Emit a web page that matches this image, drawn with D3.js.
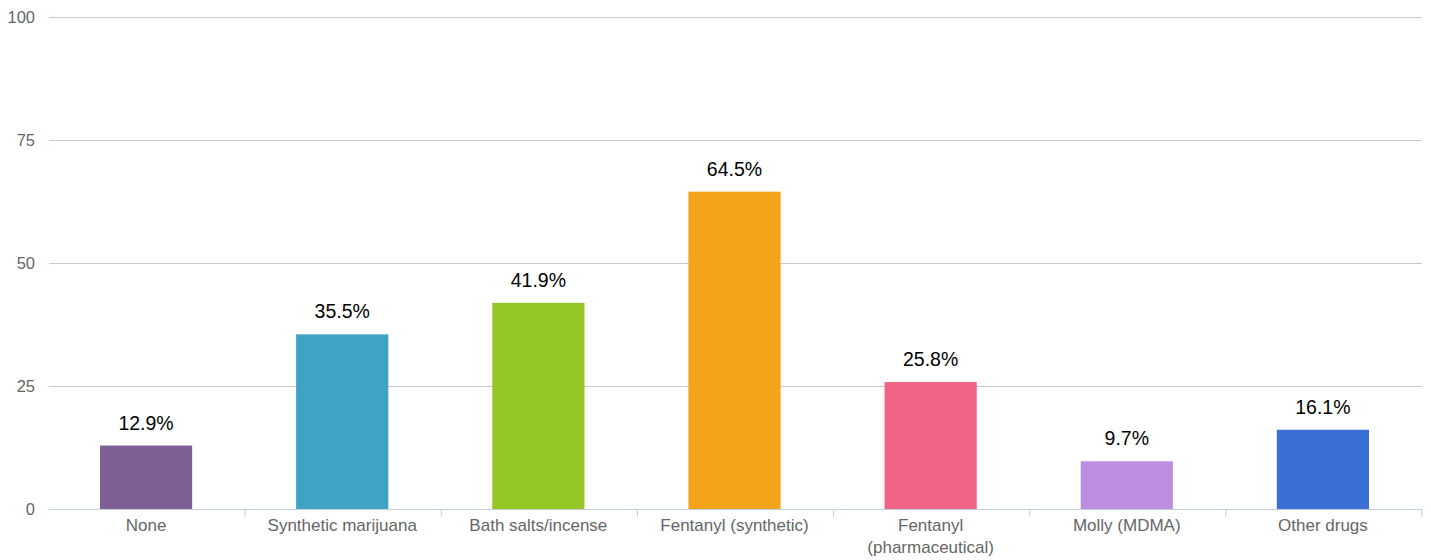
<!DOCTYPE html>
<html><head><meta charset="utf-8">
<script src="https://cdn.jsdelivr.net/npm/d3@7"></script>
<style>body{margin:0;background:#fff;font-family:Helvetica,Arial,"Liberation Sans",sans-serif;}</style>
</head><body>
<svg id="c" width="1431" height="560"></svg>
<script>
const categories = ["None","Synthetic marijuana","Bath salts/incense","Fentanyl (synthetic)","Fentanyl\n(pharmaceutical)","Molly (MDMA)","Other drugs"];
const values = [12.9,35.5,41.9,64.5,25.8,9.7,16.1];
const colors = ["#7d6095","#3fa3c4","#95c826","#f4a41b","#f06585","#bd8ee0","#3a6fd5"];
const yTicks = [0,25,50,75,100];

const svg = d3.select("#c");
const L=49, R=1422, T=17, B=509;
const x = d3.scaleBand().domain(categories).range([L,R]).paddingInner(0.53).paddingOuter(0.265);
const y = d3.scaleLinear().domain([0,100]).range([B,T]);
const off = -1;

// gridlines
svg.append("g").selectAll("line").data(yTicks.filter(d=>d>0)).join("line")
  .attr("x1",L).attr("x2",R).attr("y1",d=>y(d)+0.5).attr("y2",d=>y(d)+0.5)
  .attr("stroke","#c8c8c8").attr("stroke-width",1);
svg.append("g").selectAll("text").data(yTicks).join("text")
  .attr("x",35).attr("y",d=>y(d)+6).attr("text-anchor","end")
  .attr("font-size",16.5).attr("fill","#666").text(d=>d);

// bars
svg.append("g").selectAll("rect").data(values).join("rect")
  .attr("x",(d,i)=>x(categories[i])+off).attr("width",x.bandwidth())
  .attr("y",d=>y(d)).attr("height",d=>B-y(d)).attr("fill",(d,i)=>colors[i]);

// value labels
svg.append("g").selectAll("text").data(values).join("text")
  .attr("x",(d,i)=>x(categories[i])+x.bandwidth()/2+off).attr("y",d=>y(d)-16)
  .attr("text-anchor","middle").attr("font-size",19.5).attr("fill","#000")
  .text(d=>d.toFixed(1)+"%");

// baseline & ticks
svg.append("line").attr("x1",L).attr("x2",R).attr("y1",B+0.5).attr("y2",B+0.5)
  .attr("stroke","#c0d0e0").attr("stroke-width",1);
const step = x.step();
svg.append("g").selectAll("line").data(d3.range(1,categories.length+1)).join("line")
  .attr("x1",i=>L+i*step).attr("x2",i=>L+i*step).attr("y1",B).attr("y2",B+8)
  .attr("stroke","#c0d0e0").attr("stroke-width",1);

// x labels
const xl = svg.append("g").selectAll("text").data(categories).join("text")
  .attr("x",d=>x(d)+x.bandwidth()/2+off).attr("y",531).attr("text-anchor","middle")
  .attr("font-size",17).attr("fill","#666");
xl.each(function(d){
  const lines=d.split("\n"); const t=d3.select(this);
  lines.forEach((s,k)=>t.append("tspan").attr("x",t.attr("x")).attr("dy",k?22:0).text(s));
});
</script>
</body></html>
